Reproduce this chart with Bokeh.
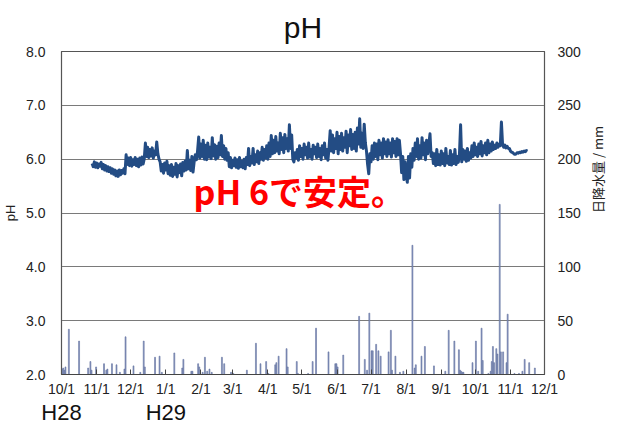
import math
import pandas as pd
from bokeh.plotting import figure
from bokeh.models import Range1d, LinearAxis, FixedTicker
from bokeh.embed import file_html
from bokeh.resources import INLINE

# ---------------- data ----------------
start_date = "2016-10-01"
end_date = "2017-12-01"

month_tick_dates = ["2016-10-01", "2016-11-01", "2016-12-01", "2017-01-01", "2017-02-01",
                    "2017-03-01", "2017-04-01", "2017-05-01", "2017-06-01", "2017-07-01",
                    "2017-08-01", "2017-09-01", "2017-10-01", "2017-11-01", "2017-12-01"]
month_tick_labels = ["10/1", "11/1", "12/1", "1/1", "2/1", "3/1", "4/1", "5/1", "6/1",
                     "7/1", "8/1", "9/1", "10/1", "11/1", "12/1"]

era_dates = ["2016-10-01", "2017-01-01"]
era_labels = ["H28", "H29"]

ph_ticks = [2, 3, 4, 5, 6, 7, 8]
rain_ticks = [0, 50, 100, 150, 200, 250, 300]

rain_dates = [
    "2016-10-01", "2016-10-02", "2016-10-03", "2016-10-04", "2016-10-07", "2016-10-16",
    "2016-10-24", "2016-10-26", "2016-10-27", "2016-10-31", "2016-11-07", "2016-11-09",
    "2016-11-10", "2016-11-14", "2016-11-18", "2016-11-21", "2016-11-25", "2016-11-26",
    "2016-12-03", "2016-12-09", "2016-12-12", "2016-12-13", "2016-12-22", "2016-12-26",
    "2016-12-28", "2017-01-08", "2017-01-15", "2017-01-16", "2017-01-23", "2017-01-24",
    "2017-01-29", "2017-01-30", "2017-02-02", "2017-02-04", "2017-02-06", "2017-02-08",
    "2017-02-10", "2017-02-19", "2017-02-21", "2017-02-27", "2017-03-01", "2017-03-13",
    "2017-03-21", "2017-03-25", "2017-03-30", "2017-04-01", "2017-04-07", "2017-04-08",
    "2017-04-10", "2017-04-17", "2017-04-18", "2017-04-26", "2017-04-27", "2017-05-06",
    "2017-05-10", "2017-05-13", "2017-05-24", "2017-05-30", "2017-05-31", "2017-06-01",
    "2017-06-06", "2017-06-20", "2017-06-25", "2017-06-27", "2017-06-29", "2017-07-01",
    "2017-07-02", "2017-07-05", "2017-07-07", "2017-07-09", "2017-07-16", "2017-07-18",
    "2017-07-19", "2017-07-22", "2017-07-26", "2017-07-29", "2017-08-06", "2017-08-08",
    "2017-08-09", "2017-08-14", "2017-08-17", "2017-08-25", "2017-09-04", "2017-09-07",
    "2017-09-12", "2017-09-16", "2017-09-17", "2017-09-18", "2017-09-19", "2017-09-20",
    "2017-09-28", "2017-10-01", "2017-10-03", "2017-10-06", "2017-10-07", "2017-10-12",
    "2017-10-14", "2017-10-15", "2017-10-16", "2017-10-17", "2017-10-19", "2017-10-20",
    "2017-10-22", "2017-10-23", "2017-10-25", "2017-10-28", "2017-10-29", "2017-11-04",
    "2017-11-08", "2017-11-11", "2017-11-13", "2017-11-17", "2017-11-22",
]
rain_mm = [
    5, 6, 4, 7, 42, 31,
    6, 12, 4, 7, 10, 4,
    5, 10, 9, 2, 5, 35,
    8, 2, 31, 7, 16, 17,
    2, 20, 6, 14, 3, 3,
    10, 7, 2, 16, 3, 5,
    2, 16, 10, 2, 1, 4,
    29, 10, 12, 1, 9, 11,
    17, 24, 7, 12, 1, 1,
    12, 43, 21, 10, 10, 7,
    18, 54, 14, 4, 57, 22,
    22, 28, 22, 17, 21, 41,
    4, 17, 2, 3, 120, 6,
    9, 17, 26, 8, 3, 41,
    31, 23, 4, 3, 2, 2,
    11, 31, 3, 43, 13, 1,
    3, 12, 26, 11, 24, 19,
    158, 21, 21, 11, 56, 1,
    1, 3, 14, 11, 6,
]

ph_first_date = "2016-10-28"
ph_values = [
    5.92, 5.86, 5.95, 5.85, 5.93, 5.84, 5.91, 5.87, 5.94, 5.82,
    5.90, 5.80, 5.88, 5.78, 5.86, 5.77, 5.84, 5.74, 5.82, 5.72,
    5.80, 5.69, 5.78, 5.68, 5.80, 5.71, 5.79, 5.74, 5.82, 5.73,
    6.08, 5.90, 6.02, 5.88, 6.03, 5.87, 5.99, 5.90, 6.03, 5.88,
    6.00, 5.86, 6.02, 5.89, 6.04, 5.91, 6.01, 6.30, 6.05, 6.22,
    6.03, 6.18, 6.06, 6.21, 6.02, 6.15, 6.08, 6.32, 6.10, 6.00,
    5.95, 5.78, 5.90, 5.74, 5.93, 5.80, 5.96, 5.73, 5.88, 5.70,
    5.90, 5.68, 5.85, 5.72, 5.92, 5.67, 5.88, 5.75, 5.91, 5.69,
    5.94, 5.78, 5.96, 5.80, 6.16, 5.82, 5.98, 5.79, 6.05, 5.76,
    5.95, 6.08, 5.99, 6.15, 6.41, 6.02, 6.28, 6.05, 6.35, 6.00,
    6.26, 5.99, 6.30, 6.04, 6.22, 6.01, 6.40, 6.06, 6.27, 6.00,
    6.24, 6.03, 6.30, 6.08, 6.44, 6.05, 6.25, 6.00, 6.20, 5.98,
    6.12, 5.86, 6.03, 5.84, 5.98, 5.88, 6.02, 5.85, 5.99, 5.83,
    6.03, 5.86, 5.96, 5.84, 6.00, 5.82, 6.03, 5.90, 6.20, 5.88,
    6.05, 5.93, 6.20, 5.90, 6.08, 5.95, 6.15, 5.92, 6.12, 6.00,
    6.22, 5.98, 6.18, 6.02, 6.25, 6.00, 6.30, 6.05, 6.44, 6.10,
    6.35, 6.12, 6.42, 6.15, 6.30, 6.10, 6.48, 6.18, 6.40, 6.12,
    6.46, 6.20, 6.38, 6.15, 6.64, 6.20, 6.45, 6.00, 5.95, 6.12,
    6.02, 6.18, 5.98, 6.25, 6.05, 6.20, 6.00, 6.28, 6.08, 6.22,
    6.02, 6.30, 6.04, 6.18, 6.00, 6.26, 6.10, 6.22, 6.03, 6.28,
    6.05, 6.20, 5.99, 6.25, 6.08, 6.30, 6.02, 6.18, 5.98, 6.22,
    6.53, 6.15, 6.45, 6.12, 6.38, 6.20, 6.50, 6.10, 6.42, 6.18,
    6.48, 6.15, 6.40, 6.22, 6.52, 6.12, 6.45, 6.25, 6.55, 6.18,
    6.46, 6.20, 6.50, 6.15, 6.58, 6.28, 6.75, 6.22, 6.48, 6.20,
    6.65, 6.30, 6.15, 5.90, 5.73, 6.10, 5.95, 6.25, 6.00, 6.30,
    6.05, 6.28, 5.99, 6.35, 6.08, 6.30, 6.02, 6.38, 6.10, 6.32,
    6.05, 6.36, 6.10, 6.30, 6.04, 6.38, 6.12, 6.33, 6.05, 6.38,
    6.08, 6.35, 6.10, 5.75, 6.05, 5.62, 5.95, 5.70, 5.57, 6.05,
    5.65, 6.10, 5.85, 6.20, 5.98, 6.30, 6.05, 6.38, 6.00, 6.25,
    6.02, 6.40, 6.08, 6.30, 5.99, 6.35, 6.10, 6.28, 6.47, 6.05,
    6.12, 5.92, 6.10, 5.88, 6.18, 5.90, 6.08, 5.89, 6.15, 5.92,
    6.10, 5.88, 6.20, 5.93, 6.05, 5.90, 6.16, 5.89, 6.08, 5.92,
    6.18, 5.90, 6.05, 5.94, 6.10, 6.64, 5.95, 6.18, 6.00, 6.15,
    5.96, 6.20, 5.98, 6.12, 6.02, 6.25, 6.05, 6.30, 6.08, 6.22,
    6.05, 6.28, 6.10, 6.33, 6.06, 6.25, 6.12, 6.30, 6.08, 6.35,
    6.12, 6.28, 6.15, 6.32, 6.18, 6.26, 6.20, 6.30, 6.22, 6.28,
    6.25, 6.69, 6.28, 6.22, 6.26, 6.21, 6.24, 6.20, 6.20, 6.15,
    6.13, 6.12, 6.10, 6.09, 6.10, 6.12, 6.11, 6.13, 6.12, 6.14,
    6.13, 6.15, 6.14, 6.16, 6.15,
]

title_text = "pH"
note_text = "pH 6で安定。"
left_label = "pH"
right_label = "日降水量 / mm"

# ---------------- conversions (days since start) ----------------
t0 = pd.Timestamp(start_date)
def days(ds):
    return [(pd.Timestamp(d) - t0).days for d in ds]

x_end = days([end_date])[0]
tick_x = days(month_tick_dates)
era_x = days(era_dates)
rain_x = [d + 0.5 for d in days(rain_dates)]
ph_x = [days([ph_first_date])[0] + i for i in range(len(ph_values))]

# ---------------- figure ----------------
LATIN = "Liberation Sans"
CJK = "Noto Sans CJK JP"

p = figure(width=619, height=427, output_backend="svg", toolbar_location=None,
           x_range=Range1d(0, x_end), y_range=Range1d(2, 8),
           min_border_left=61, min_border_right=69, min_border_top=51, min_border_bottom=53)
p.extra_y_ranges = {"rain": Range1d(0, 300)}
p.background_fill_color = "white"
p.border_fill_color = "white"
p.outline_line_color = "#555555"
p.outline_line_width = 1.2

# title
p.title.text = title_text
p.title.align = "center"
p.title.text_font = LATIN
p.title.text_font_size = "30px"
p.title.text_font_style = "normal"
p.title.text_color = "#111111"
p.title.text_line_height = 1.0
p.title.standoff = 16

# grid
p.xgrid.visible = False
p.ygrid.ticker = FixedTicker(ticks=ph_ticks)
p.ygrid.grid_line_color = "#7a7a7a"
p.ygrid.grid_line_width = 1

# x axis
xa = p.xaxis[0]
xa.ticker = FixedTicker(ticks=tick_x)
xa.major_label_overrides = {t: l for t, l in zip(tick_x, month_tick_labels)}
xa.major_tick_in = 5
xa.major_tick_out = 0
xa.minor_tick_line_color = None
xa.axis_line_color = "#444444"
xa.major_tick_line_color = "#444444"
xa.major_label_standoff = 6
xa.major_label_text_font = LATIN
xa.major_label_text_font_size = "14px"
xa.major_label_text_color = "#222222"

# era axis (H28 / H29) below the month labels
ea = LinearAxis(ticker=FixedTicker(ticks=era_x))
ea.major_label_overrides = {t: l for t, l in zip(era_x, era_labels)}
ea.axis_line_color = None
ea.major_tick_line_color = None
ea.minor_tick_line_color = None
ea.major_tick_in = 0
ea.major_tick_out = 0
ea.major_label_standoff = 0
ea.major_label_text_font = LATIN
ea.major_label_text_font_size = "22px"
ea.major_label_text_color = "#111111"
p.add_layout(ea, "below")

# left axis
ya = p.yaxis[0]
ya.ticker = FixedTicker(ticks=ph_ticks)
ya.major_label_overrides = {t: f"{t:.1f}" for t in ph_ticks}
ya.major_tick_in = 0
ya.major_tick_out = 0
ya.minor_tick_line_color = None
ya.axis_line_color = "#555555"
ya.major_label_standoff = 16
ya.major_label_text_font = LATIN
ya.major_label_text_font_size = "14px"
ya.major_label_text_color = "#222222"
ya.axis_label = left_label
ya.axis_label_standoff = 5
ya.axis_label_text_font = LATIN
ya.axis_label_text_font_size = "13px"
ya.axis_label_text_font_style = "normal"
ya.axis_label_text_color = "#222222"

# right axis
ra = LinearAxis(y_range_name="rain", ticker=FixedTicker(ticks=rain_ticks))
ra.major_tick_in = 0
ra.major_tick_out = 0
ra.minor_tick_line_color = None
ra.axis_line_color = "#555555"
ra.major_label_standoff = 13
ra.major_label_text_font = LATIN
ra.major_label_text_font_size = "14px"
ra.major_label_text_color = "#222222"
ra.axis_label = right_label
ra.axis_label_standoff = 14
ra.axis_label_text_font = CJK
ra.axis_label_text_font_size = "13px"
ra.axis_label_text_font_style = "normal"
ra.axis_label_text_color = "#222222"
ra.axis_label_text_line_height = 1.0
ra.axis_label_orientation = math.pi / 2
p.add_layout(ra, "right")

# glyphs
p.vbar(x=rain_x, top=rain_mm, bottom=0, width=0.85, y_range_name="rain",
       fill_color="#8795c0", line_color="#63729f", line_width=0.6)
p.line(x=ph_x, y=ph_values, line_width=3, line_color="#234c84", line_join="round")

# annotation inside the plot
p.text(x=[116.5], y=[5.41], text=[note_text], text_align="left", text_baseline="middle",
       text_font={"value": CJK}, text_font_style="bold", text_font_size="34px",
       text_color="#ff0000")

open("out.html", "w").write(file_html(p, INLINE))
